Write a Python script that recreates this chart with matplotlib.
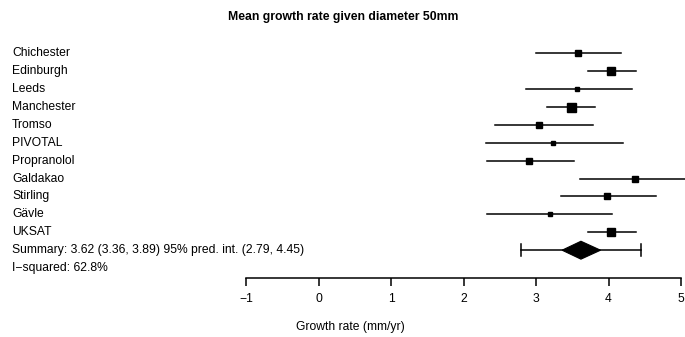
import numpy as np
import matplotlib.pyplot as plt
from matplotlib.transforms import blended_transform_factory
from matplotlib.patches import Polygon

plt.rcParams['font.family'] = ['Liberation Sans', 'DejaVu Sans']

# study estimates (mm/yr)
studies = ["Chichester", "Edinburgh", "Leeds", "Manchester", "Tromso", "PIVOTAL",
           "Propranolol", "Galdakao", "Stirling", "G\u00e4vle", "UKSAT"]
est = [3.58, 4.04, 3.57, 3.48, 3.04, 3.24, 2.91, 4.36, 3.98, 3.19, 4.04]
lower = [3.00, 3.72, 2.86, 3.15, 2.44, 2.31, 2.33, 3.61, 3.34, 2.33, 3.72]
upper = [4.17, 4.38, 4.32, 3.82, 3.79, 4.20, 3.53, 5.30, 4.66, 4.05, 4.38]
box_px = [6, 8, 5, 9, 6, 4, 6, 6, 6, 5, 8]

summ = 3.62
summ_ci = (3.36, 3.89)
pred_int = (2.79, 4.45)
i2 = 62.8

W, H = 685, 337
fig = plt.figure(figsize=(W / 100, H / 100), dpi=100)

# axes placed in pixel terms: x -1..5 spans 246..681 px, bottom at 278 px
x0, x1 = 246, 681
ytop, ybot = 40, 278
ax = fig.add_axes([x0 / W, 1 - ybot / H, (x1 - x0) / W, (ybot - ytop) / H])
row0, step = 53.3, 17.9
ax.set_xlim(-1, 5)
ax.set_ylim((ybot - row0) / step, (ytop - row0) / step)

n = len(studies)
rows = np.arange(n)
for i in rows:
    ax.plot([lower[i], upper[i]], [i, i], color='black', lw=1.1, clip_on=False)
    ax.plot(est[i], i, marker='s', color='black', ms=box_px[i] * 0.72, clip_on=False)

# summary row
ys = n
ax.plot([pred_int[0], pred_int[1]], [ys, ys], color='black', lw=1.1)
for xp in pred_int:
    ax.plot([xp, xp], [ys - 0.33, ys + 0.33], color='black', lw=1.1)
dia = Polygon([[summ_ci[0], ys], [summ, ys - 0.5], [summ_ci[1], ys], [summ, ys + 0.5]],
              closed=True, facecolor='black', edgecolor='black', lw=0.8)
ax.add_patch(dia)

# left-hand labels
tr = blended_transform_factory(fig.transFigure, ax.transData)
labels = studies + ["Summary: %.2f (%.2f, %.2f) 95%% pred. int. (%.2f, %.2f)"
                    % (summ, summ_ci[0], summ_ci[1], pred_int[0], pred_int[1]),
                    "I\u2212squared: %.1f%%" % i2]
for i, lab in enumerate(labels):
    ax.text(12 / W, i, lab, transform=tr, fontsize=8.7, va='center', ha='left')

for s in ['top', 'left', 'right']:
    ax.spines[s].set_visible(False)
ax.spines['bottom'].set_linewidth(1.1)
ax.set_yticks([])
ax.set_xticks(range(-1, 6))
ax.set_xticklabels(["\u22121", "0", "1", "2", "3", "4", "5"])
ax.tick_params(axis='x', length=5.5, width=1.1, labelsize=8.7, pad=5)

fig.text(350 / W, 1 - 327 / H, "Growth rate (mm/yr)", fontsize=8.7, ha='center', va='center')
fig.text(343 / W, 1 - 17 / H, "Mean growth rate given diameter 50mm", fontsize=8.8,
         fontweight='bold', ha='center', va='center')

fig.savefig("out.png", dpi=100)
